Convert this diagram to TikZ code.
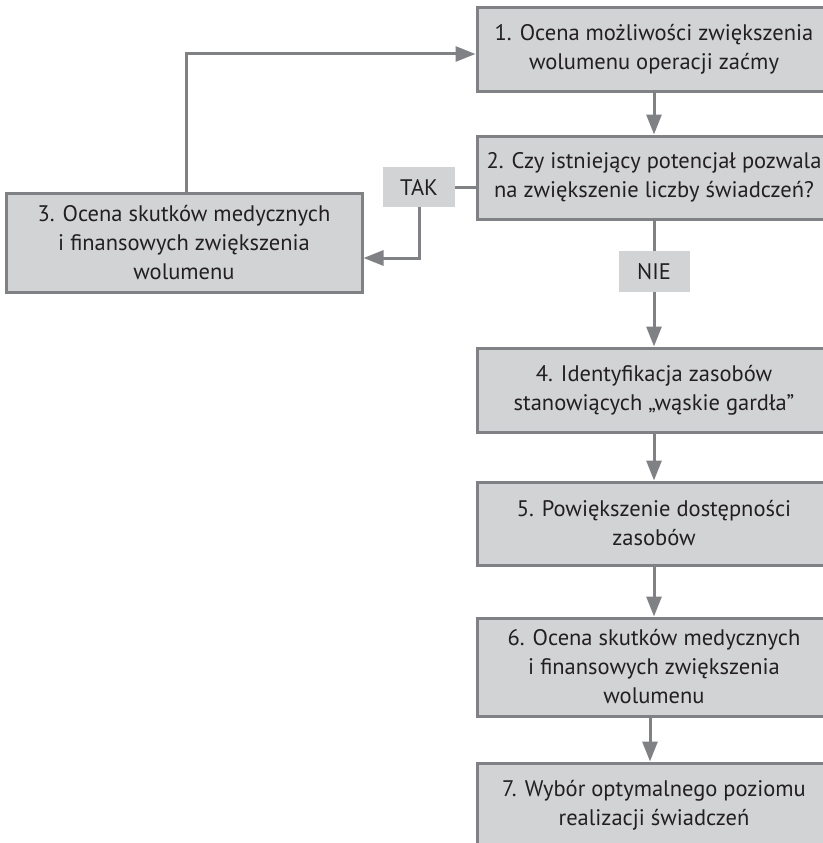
\documentclass[tikz,border=0pt]{standalone}
\usepackage{fontspec}
\setmainfont{PT Sans}
\usetikzlibrary{arrows.meta}
\definecolor{boxfill}{HTML}{D1D3D4}
\definecolor{boxline}{HTML}{808184}
\definecolor{txt}{HTML}{231F20}
\tikzset{
  x=1pt, y=-1pt,
  stepbox/.style={draw=boxline, line width=3pt, fill=boxfill, rectangle, align=center,
    text=txt, font=\fontsize{22.5}{29}\selectfont, inner sep=0pt, minimum width=354pt},
  lbl/.style={fill=boxfill, rectangle, text=txt, font=\fontsize{22.5}{29}\selectfont, inner sep=0pt},
  conn/.style={draw=boxline, line width=3pt},
  arr/.style={conn, -{Triangle[length=20pt,width=15pt]}}
}
\begin{document}
\begin{tikzpicture}
\useasboundingbox (0,0) rectangle (822,843);
\node[stepbox, minimum height=83pt] (b1) at (654,49.5) {1. Ocena możliwości zwiększenia\\wolumenu operacji zaćmy};
\node[stepbox, minimum height=83pt] (b2) at (654,177.5) {2. Czy istniejący potencjał pozwala\\na zwiększenie liczby świadczeń?};
\node[stepbox, minimum width=356pt, minimum height=99pt] (b3) at (184,242.5) {3. Ocena skutków medycznych\\i finansowych zwiększenia\\wolumenu};
\node[stepbox, minimum height=84pt] (b4) at (654,390) {4. Identyfikacja zasobów\\stanowiących „wąskie gardła”};
\node[stepbox, minimum height=83pt] (b5) at (654,523.5) {5. Powiększenie dostępności\\zasobów};
\node[stepbox, minimum height=98pt] (b6) at (654,667) {6. Ocena skutków medycznych\\i finansowych zwiększenia\\wolumenu};
\node[stepbox, minimum height=85pt] (b7) at (654,805.5) {7. Wybór optymalnego poziomu\\realizacji świadczeń};
\node[lbl, minimum width=72pt, minimum height=40pt] (tak) at (419,187) {TAK};
\node[lbl, minimum width=71pt, minimum height=41pt] (nie) at (654,271.5) {NIE};
\coordinate (c1) at (419,258);
\coordinate (c2) at (186,54);
% connectors
\draw[arr] (b1) -- (b2);
\draw[conn] (b2.west |- tak.east) -- (tak.east);
\draw[arr] (tak.south) -- (c1) -- (b3.east |- c1);
\draw[arr] (b3.north -| c2) -- (c2) -- (b1.west |- c2);
\draw[conn] (b2) -- (nie);
\draw[arr] (nie) -- (b4);
\draw[arr] (b4) -- (b5);
\draw[arr] (b5) -- (b6);
\draw[arr] ([xshift=-4pt]b6.south) -- ([xshift=-4pt]b7.north);
\end{tikzpicture}
\end{document}
